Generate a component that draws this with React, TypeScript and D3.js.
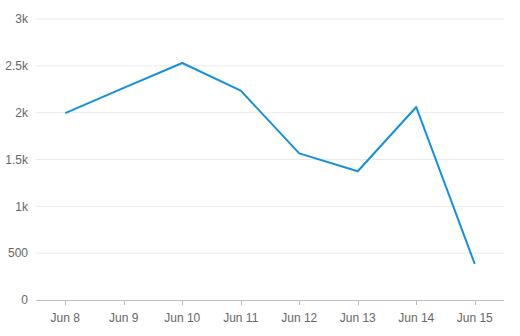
import React from "react";
import * as d3 from "d3";

const categories = ["Jun 8", "Jun 9", "Jun 10", "Jun 11", "Jun 12", "Jun 13", "Jun 14", "Jun 15"];
const values = [1995, 2265, 2530, 2235, 1565, 1375, 2060, 385];
const yTicks = [0, 500, 1000, 1500, 2000, 2500, 3000];
const yTickLabels = ["0", "500", "1k", "1.5k", "2k", "2.5k", "3k"];

export default function App() {
  const W = 520, H = 336;
  const left = 36, right = 504, top = 19, bottom = 300;
  const x = d3.scaleBand<string>().domain(categories).range([left, right]);
  const y = d3.scaleLinear().domain([0, 3000]).range([bottom, top]);
  const cx = (c: string) => (x(c) as number) + x.bandwidth() / 2;
  const line = d3.line<number>().x((_, i) => cx(categories[i])).y((v) => y(v));
  const font = "'Liberation Sans', Arial, sans-serif";
  return (
    <svg width={W} height={H} style={{ position: "absolute", left: 0, top: 0, background: "#fff" }}>
      {yTicks.map((t, i) => (
        <g key={t}>
          {t !== 0 && (
            <line x1={left} x2={right} y1={y(t)} y2={y(t)} stroke="#ebebeb" strokeWidth={1} />
          )}
          <text x={28} y={y(t)} dy="0.35em" textAnchor="end" fontSize={12} fill="#666" fontFamily={font}>
            {yTickLabels[i]}
          </text>
        </g>
      ))}
      <line x1={left} x2={right} y1={bottom + 0.5} y2={bottom + 0.5} stroke="#bdbdbd" strokeWidth={1} />
      {categories.map((c) => (
        <g key={c}>
          <line x1={Math.round(cx(c)) + 0.5} x2={Math.round(cx(c)) + 0.5} y1={bottom} y2={bottom + 5} stroke="#bdbdbd" />
          <text x={cx(c)} y={322} textAnchor="middle" fontSize={12} fill="#666" fontFamily={font}>
            {c}
          </text>
        </g>
      ))}
      <path d={line(values) || ""} fill="none" stroke="#1590dc" strokeWidth={2} strokeLinejoin="round" />
    </svg>
  );
}
